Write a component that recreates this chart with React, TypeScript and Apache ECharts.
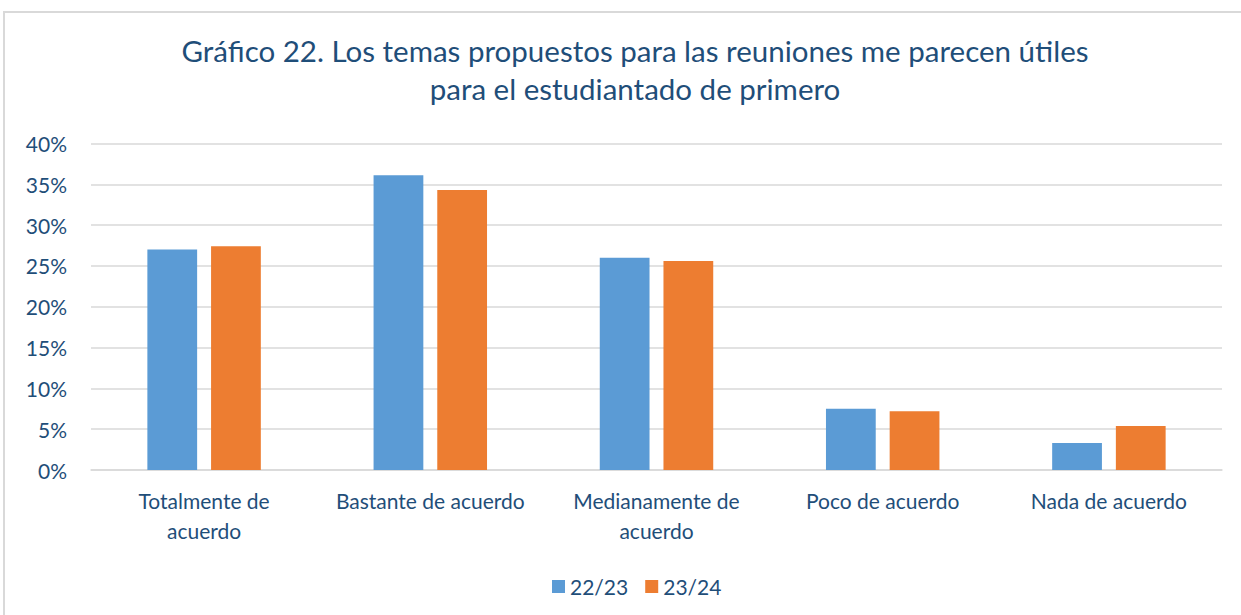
import React, { useEffect, useRef } from "react";
import * as echarts from "echarts";

const categories = [
  "Totalmente de\nacuerdo",
  "Bastante de acuerdo",
  "Medianamente de\nacuerdo",
  "Poco de acuerdo",
  "Nada de acuerdo",
];
const series2223 = [0.27, 0.361, 0.26, 0.075, 0.033];
const series2324 = [0.274, 0.343, 0.256, 0.072, 0.054];
const seriesNames = ["22/23", "23/24"];
const titleText = "Gráfico 22. Los temas propuestos para las reuniones me parecen útiles\npara el estudiantado de primero";

const FONT = "Lato, 'Open Sans', sans-serif";
const TEXT = "#1F4E79";

export default function App() {
  const ref = useRef<HTMLDivElement>(null);
  useEffect(() => {
    document.body.style.margin = "0";
    const chart = echarts.init(ref.current!, undefined, { renderer: "svg" });
    chart.setOption({
      animation: false,
      textStyle: { fontFamily: FONT },
      graphic: [
        {
          type: "rect",
          shape: { x: 4, y: 12, width: 1260, height: 640 },
          style: { fill: "none", stroke: "#d9d9d9", lineWidth: 2 },
          silent: true,
        },
      ],
      title: {
        text: titleText,
        left: 630,
        textAlign: "center",
        top: 26,
        textStyle: {
          fontFamily: FONT,
          fontSize: 29.5,
          fontWeight: "normal",
          color: TEXT,
          lineHeight: 38,
        },
      },
      legend: {
        data: seriesNames,
        left: 547,
        top: 571,
        itemWidth: 13,
        itemHeight: 13,
        itemGap: 17,
        icon: "rect",
        textStyle: { fontFamily: FONT, fontSize: 21, color: TEXT },
      },
      grid: { left: 91, right: 19, top: 143.5, bottom: 145 },
      xAxis: {
        type: "category",
        data: categories,
        axisTick: { show: false },
        axisLine: { lineStyle: { color: "#d9d9d9", width: 1.5 } },
        axisLabel: {
          fontFamily: FONT,
          fontSize: 21,
          color: TEXT,
          lineHeight: 30,
          margin: 15,
          interval: 0,
        },
      },
      yAxis: {
        type: "value",
        min: 0,
        max: 0.4,
        interval: 0.05,
        axisLine: { show: false },
        axisTick: { show: false },
        splitLine: { lineStyle: { color: "#d9d9d9", width: 1.5 } },
        axisLabel: {
          fontFamily: FONT,
          fontSize: 21,
          color: TEXT,
          margin: 24,
          formatter: (v: number) => `${Math.round(v * 100)}%`,
        },
      },
      series: [
        {
          name: seriesNames[0],
          type: "bar",
          data: series2223,
          barWidth: "22%",
          barGap: "28%",
          itemStyle: { color: "#5B9BD5" },
        },
        {
          name: seriesNames[1],
          type: "bar",
          data: series2324,
          barWidth: "22%",
          barGap: "28%",
          itemStyle: { color: "#ED7D31" },
        },
      ],
    });
    return () => chart.dispose();
  }, []);
  return <div ref={ref} style={{ width: 1241, height: 615 }} />;
}
